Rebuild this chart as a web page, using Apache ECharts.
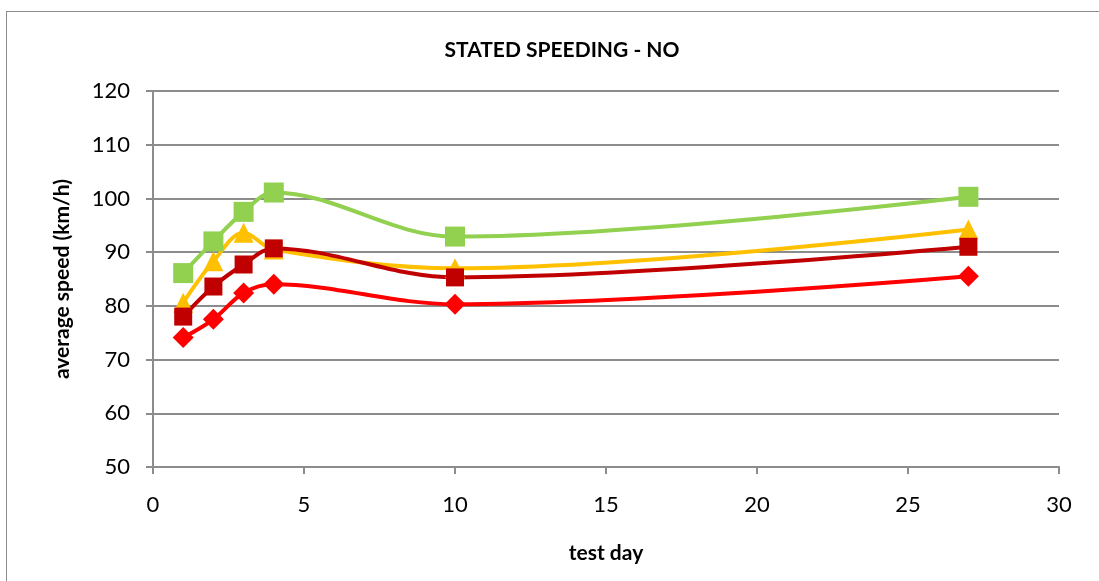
<!DOCTYPE html>
<html>
<head>
<meta charset="utf-8">
<script src="https://cdn.jsdelivr.net/npm/echarts@6/dist/echarts.min.js"></script>
<style>
html,body{margin:0;padding:0;background:#fff;}
#frame{position:absolute;left:6px;top:11px;width:1100px;height:580px;border:1px solid #8c8c8c;box-sizing:border-box;}
#chart{position:absolute;left:0;top:0;width:1099px;height:581px;}
</style>
</head>
<body>
<div id="frame"></div>
<div id="chart"></div>
<script>
const testDays = [1, 2, 3, 4, 10, 27];
const seriesNames = ['green', 'yellow', 'darkred', 'red'];
const greenValues = [86.1, 92.0, 97.5, 101.1, 92.9, 100.3];
const yellowValues = [80.6, 88.3, 93.6, 90.5, 87.0, 94.2];
const darkRedValues = [78.0, 83.6, 87.7, 90.7, 85.3, 91.0];
const redValues = [74.1, 77.5, 82.4, 84.0, 80.3, 85.5];
const titleText = 'STATED SPEEDING - NO';
const xAxisName = 'test day';
const yAxisName = 'average speed (km/h)';

const FONT = 'Lato, "Open Sans", sans-serif';
function pts(vals){ return testDays.map((d,i)=>[d, vals[i]]); }
function mk(name, vals, color, symbol, size){
  return {
    name, type:'line', smooth:0.35, data:pts(vals),
    symbol, symbolSize:size,
    lineStyle:{color, width:4},
    itemStyle:{color, borderWidth:0},
    z: 2
  };
}
const chart = echarts.init(document.getElementById('chart'), null, {renderer:'canvas'});
chart.setOption({
  animation:false,
  backgroundColor:'transparent',
  title:{text:titleText, left:557, top:35, textAlign:'center',
    textStyle:{fontFamily:FONT, fontWeight:'bold', fontSize:21, color:'#000'}},
  grid:{left:153, right:40, top:91, bottom:114},
  xAxis:{type:'value', min:0, max:30, interval:5,
    name:xAxisName, nameLocation:'middle', nameGap:76,
    nameTextStyle:{fontFamily:FONT, fontWeight:'bold', fontSize:21, color:'#000'},
    axisLine:{lineStyle:{color:'#8c8c8c', width:2}},
    axisTick:{show:true, length:7, lineStyle:{color:'#8c8c8c', width:2}},
    axisLabel:{fontFamily:FONT, fontSize:22, color:'#000', margin:27},
    splitLine:{show:false}},
  yAxis:{type:'value', min:50, max:120, interval:10,
    name:yAxisName, nameLocation:'middle', nameGap:80, nameRotate:90,
    nameTextStyle:{fontFamily:FONT, fontWeight:'bold', fontSize:21, color:'#000'},
    axisLine:{show:true, lineStyle:{color:'#8c8c8c', width:2}},
    axisTick:{show:true, length:7, lineStyle:{color:'#8c8c8c', width:2}},
    axisLabel:{fontFamily:FONT, fontSize:22, color:'#000', margin:23},
    splitLine:{show:true, lineStyle:{color:'#8c8c8c', width:2}}},
  series:[
    mk(seriesNames[0], greenValues, '#92D050', 'rect', 20),
    mk(seriesNames[1], yellowValues, '#FFC000', 'triangle', 20),
    mk(seriesNames[2], darkRedValues, '#C00000', 'rect', 18),
    mk(seriesNames[3], redValues, '#FF0000', 'diamond', 21)
  ]
});
</script>
</body>
</html>
